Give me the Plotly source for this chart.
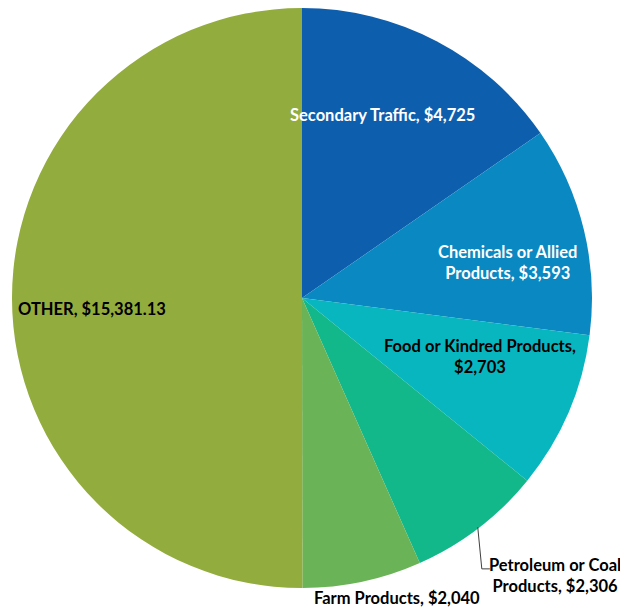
import plotly.graph_objects as go

categorias = ["Secondary Traffic", "Chemicals or Allied Products", "Food or Kindred Products",
              "Petroleum or Coal Products", "Farm Products", "OTHER"]
valores = [4725, 3593, 2703, 2306, 2040, 15381.13]
etiquetas = ["Secondary Traffic, $4,725", "Chemicals or Allied<br>Products, $3,593",
             "Food or Kindred Products,<br>$2,703", "Petroleum or Coal<br>Products, $2,306",
             "Farm Products, $2,040", "OTHER, $15,381.13"]
colores = ["#0E5EAE", "#0A88C2", "#08B6C0", "#12B88A", "#6BB357", "#93AC3E"]

# posiciones de las etiquetas (papel) y color del texto
pos_etq = [(0.638, 0.816), (0.855, 0.562), (0.807, 0.399), (0.936, 0.022), (0.664, -0.017), (0.138, 0.481)]
color_txt = ["white", "white", "black", "black", "black", "black"]

fig = go.Figure(go.Pie(labels=categorias, values=valores, sort=False, direction="clockwise",
                       rotation=0, marker=dict(colors=colores, line=dict(width=0)),
                       textinfo="none", hoverinfo="label+value", showlegend=False))

for txt, (x, y), c in zip(etiquetas, pos_etq, color_txt):
    fig.add_annotation(x=x, y=y, xref="paper", yref="paper", text=txt, showarrow=False,
                       xanchor="center", yanchor="middle",
                       font=dict(family="Lato", size=16.5, color=c, weight="bold"), align="center")

# linea guia de Petroleum
fig.add_shape(type="path", xref="paper", yref="paper",
              path="M 0.803 0.105 L 0.810 0.033 L 0.824 0.033", line=dict(color="#404040", width=1))

fig.update_layout(width=620, height=603, margin=dict(l=4, r=36, t=0, b=23),
                  paper_bgcolor="white", plot_bgcolor="white")

fig.write_html("out.html")
